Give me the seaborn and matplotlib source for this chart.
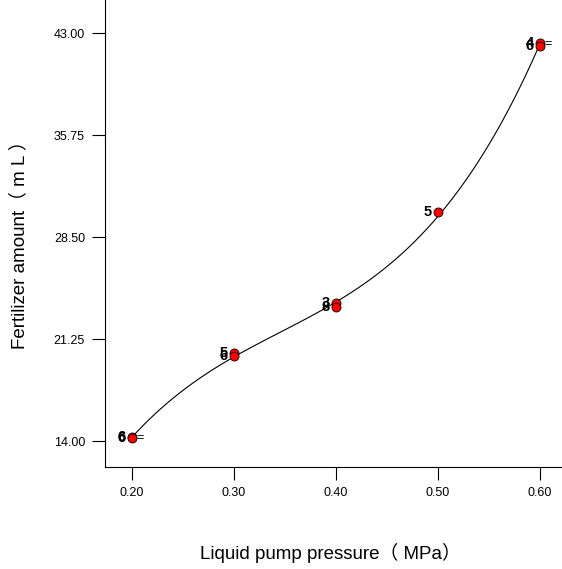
import numpy as np
import pandas as pd
import seaborn as sns
import matplotlib.pyplot as plt

# design points (replicate counts shown as labels)
pressure = [0.2, 0.2, 0.3, 0.3, 0.4, 0.4, 0.5, 0.6, 0.6]
fertilizer = [14.30, 14.20, 20.25, 20.05, 23.80, 23.50, 30.30, 42.30, 42.10]
point_labels = ["6", "6", "5", "6", "3", "8", "5", "4", "6"]
x_ticks = [0.20, 0.30, 0.40, 0.50, 0.60]
y_ticks = [14.00, 21.25, 28.50, 35.75, 43.00]

df = pd.DataFrame({"pressure": pressure, "fertilizer": fertilizer, "label": point_labels})

sns.set_style("ticks", {"text.color": "black", "xtick.color": "black", "ytick.color": "black",
                        "axes.edgecolor": "black", "axes.labelcolor": "black"})
plt.rcParams["font.family"] = ["Liberation Sans", "Noto Sans CJK SC", "DejaVu Sans"]

fig = plt.figure(figsize=(5.62, 5.69), dpi=100)
ax = fig.add_axes([0.187, 0.179, 0.813, 0.821])

# fitted cubic response curve
sns.regplot(data=df, x="pressure", y="fertilizer", order=3, ci=None, scatter=False,
            truncate=True, line_kws={"color": "black", "lw": 0.8}, ax=ax)

sns.scatterplot(data=df, x="pressure", y="fertilizer", color="red", edgecolor="black",
                linewidth=0.6, s=42, zorder=5, ax=ax)

for xv, yv, lab in zip(df["pressure"], df["fertilizer"], df["label"]):
    ax.annotate(lab, (xv, yv), xytext=(-4.5, 0), textcoords="offset points",
                ha="right", va="center", fontsize=10.5, fontweight="bold", color="black")

# overlap marks next to the end points
for xv in [0.2, 0.6]:
    yv = df.loc[df["pressure"] == xv, "fertilizer"].mean()
    ax.annotate("=", (xv, yv), xytext=(3, 0), textcoords="offset points",
                ha="left", va="center", fontsize=9)

ax.set_xlim(0.1735, 0.6216)
ax.set_ylim(12.15, 45.35)
ax.set_xticks(x_ticks)
ax.set_xticklabels([f"{v:.2f}" for v in x_ticks], fontsize=9)
ax.set_yticks(y_ticks)
ax.set_yticklabels([f"{v:.2f}" for v in y_ticks], fontsize=9)
ax.tick_params(direction="out", length=9.5, width=0.8, colors="black")
ax.tick_params(axis="x", pad=5)
ax.tick_params(axis="y", pad=5)
sns.despine(ax=ax)
for sp in ["left", "bottom"]:
    ax.spines[sp].set_linewidth(0.8)
    ax.spines[sp].set_color("black")

ax.set_xlabel("")
ax.set_ylabel("")
fig.text(0.587, 0.028, "Liquid pump pressure（ MPa）", fontsize=13.5, ha="center", va="center")
fig.text(0.034, 0.578, "Fertilizer amount（ m L ）", fontsize=13.5, ha="center", va="center",
         rotation=90)

fig.savefig("out.png", dpi=100)
